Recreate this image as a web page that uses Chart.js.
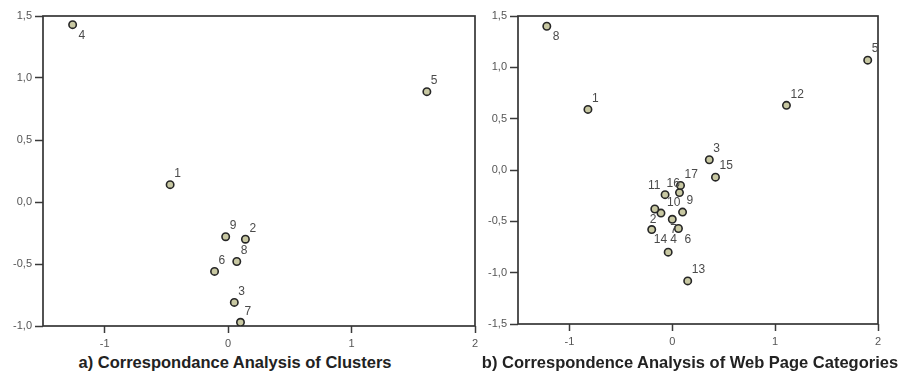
<!DOCTYPE html>
<html>
<head>
<meta charset="utf-8">
<script src="https://cdn.jsdelivr.net/npm/chart.js@4.4.1/dist/chart.umd.min.js"></script>
<style>
    body { margin: 0; background: #fff; }
    #wrap { position: relative; width: 901px; height: 376px; overflow: hidden; background: #fff; }
    canvas { position: absolute; top: 0; }
    #clusterChart { left: 0; }
    #categoryChart { left: 485px; }
    .caption {
        position: absolute; top: 353px; height: 22px; line-height: 22px;
        font: bold 16.5px "Liberation Sans", Arial, sans-serif; color: #222;
        text-align: center; white-space: nowrap;
    }
</style>
</head>
<body>
<div id="wrap">
    <canvas id="clusterChart" width="490" height="352"></canvas>
    <canvas id="categoryChart" width="416" height="352"></canvas>
    <div class="caption" style="left:0;width:470px;">a) Correspondance Analysis of Clusters</div>
    <div class="caption" style="left:480px;width:420px;">b) Correspondence Analysis of Web Page Categories</div>
</div>
<script>
// a) clusters
const clusterIds = ['1', '2', '3', '4', '5', '6', '7', '8', '9'];
const clusterX = [-0.47, 0.14, 0.05, -1.26, 1.61, -0.11, 0.10, 0.07, -0.02];
const clusterY = [0.14, -0.30, -0.81, 1.43, 0.89, -0.56, -0.97, -0.48, -0.28];

// b) web page categories
const categoryIds = ['1', '2', '3', '4', '5', '6', '7', '8', '9', '10', '11', '12', '13', '14', '15', '16', '17'];
const categoryX = [-0.82, -0.20, 0.36, -0.04, 1.90, 0.06, 0.00, -1.22, 0.10, -0.11, -0.07, 1.11, 0.15, -0.17, 0.42, 0.07, 0.08];
const categoryY = [0.59, -0.58, 0.10, -0.80, 1.07, -0.57, -0.48, 1.40, -0.41, -0.42, -0.24, 0.63, -1.08, -0.38, -0.07, -0.22, -0.15];

// tick labels
const xTicks = [-1, 0, 1, 2];
const clusterYTicks = [-1.0, -0.5, 0.0, 0.5, 1.0, 1.5];
const categoryYTicks = [-1.5, -1.0, -0.5, 0.0, 0.5, 1.0, 1.5];

const FONT = '"Liberation Sans", Arial, sans-serif';

// draws the closed box round the plot
const framePlugin = {
    id: 'frame',
    beforeDatasetsDraw(chart) {
        const a = chart.chartArea;
        const ctx = chart.ctx;
        ctx.save();
        ctx.strokeStyle = '#353535';
        ctx.lineWidth = 1.7;
        ctx.strokeRect(a.left, a.top, a.right - a.left, a.bottom - a.top);
        ctx.restore();
    }
};

// point labels, by default up and to the right of each point
const pointLabelPlugin = {
    id: 'pointLabels',
    afterDatasetsDraw(chart, args, opts) {
        const ctx = chart.ctx;
        const names = opts.names || [];
        const moves = opts.moves || {};
        ctx.save();
        ctx.font = '12px ' + FONT;
        ctx.fillStyle = '#4a4a4a';
        ctx.textAlign = 'left';
        ctx.textBaseline = 'middle';
        chart.getDatasetMeta(0).data.forEach((pt, i) => {
            const m = moves[names[i]] || [4, -11];
            ctx.fillText(names[i], pt.x + m[0], pt.y + m[1]);
        });
        ctx.restore();
    }
};

function comma(v) {
    return v.toFixed(1).replace('.', ',');
}

function makeChart(id, names, xs, ys, yTicks, sizes, moves) {
    const ctx = document.getElementById(id);
    return new Chart(ctx, {
        type: 'scatter',
        data: {
            datasets: [{
                data: names.map((n, i) => ({ x: xs[i], y: ys[i] })),
                pointRadius: 3.7,
                pointBackgroundColor: '#c8c8a2',
                pointBorderColor: '#262626',
                pointBorderWidth: 1.6
            }]
        },
        options: {
            responsive: false,
            animation: false,
            layout: { padding: { top: 16, right: sizes.padRight, left: 0, bottom: 0 } },
            plugins: {
                legend: { display: false },
                tooltip: { enabled: false },
                pointLabels: { names: names, moves: moves }
            },
            scales: {
                x: {
                    type: 'linear',
                    min: -1.5,
                    max: 2,
                    afterBuildTicks: s => { s.ticks = xTicks.map(v => ({ value: v })); },
                    afterFit: s => { s.height = sizes.xAxis; },
                    border: { display: false },
                    grid: { drawOnChartArea: false, drawTicks: true, tickLength: 7, tickColor: '#3a3a3a', tickWidth: 1.5 },
                    ticks: { color: '#555', font: { family: FONT, size: 11 }, padding: 4, callback: v => String(v) }
                },
                y: {
                    type: 'linear',
                    min: yTicks[0],
                    max: yTicks[yTicks.length - 1],
                    afterBuildTicks: s => { s.ticks = yTicks.map(v => ({ value: v })); },
                    afterFit: s => { s.width = sizes.yAxis; },
                    border: { display: false },
                    grid: { drawOnChartArea: false, drawTicks: true, tickLength: 8, tickColor: '#3a3a3a', tickWidth: 1.5 },
                    ticks: { color: '#555', font: { family: FONT, size: 11 }, padding: 3, callback: v => comma(v) }
                }
            }
        },
        plugins: [framePlugin, pointLabelPlugin]
    });
}

makeChart('clusterChart', clusterIds, clusterX, clusterY, clusterYTicks,
    { padRight: 15, yAxis: 43, xAxis: 26 },
    { '4': [6, 11] });

makeChart('categoryChart', categoryIds, categoryX, categoryY, categoryYTicks,
    { padRight: 23, yAxis: 33, xAxis: 28 },
    {
        '8': [6, 10], '16': [-13, -9], '11': [-17, -9], '10': [6, -10],
        '2': [-2, -10], '7': [-2, 10], '6': [6, 11], '4': [2, -12], '14': [-1, 31]
    });
</script>
</body>
</html>
